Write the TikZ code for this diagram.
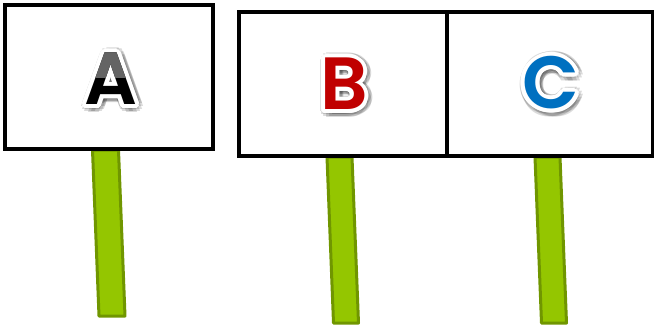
\documentclass[tikz,border=0pt]{standalone}
\usepackage{fontspec}
\setmainfont{Poppins}
\newfontfamily\letterfam{Poppins}[UprightFont=* SemiBold]
\usetikzlibrary{calc}
\definecolor{stickgreen}{RGB}{148,198,0}
\definecolor{stickedge}{RGB}{112,150,0}
\definecolor{letterred}{RGB}{192,0,0}
\definecolor{letterblue}{RGB}{0,112,192}
\definecolor{lettergray}{RGB}{100,100,100}
\begin{document}
\begin{tikzpicture}[x=1pt,y=-1pt,
  panel/.style={draw=black, line width=3.2pt, fill=white},
  stick/.style={fill=stickgreen, draw=stickedge, line width=3pt, line join=round},
  letterfont/.style={font=\letterfam\fontsize{74}{74}\selectfont, inner sep=0pt, anchor=center},
  outline/.style={letterfont, text=white},
  glow/.style={letterfont, text=black, opacity=0.14}]
\useasboundingbox (0,0) rectangle (654,327);
% sticks
\draw[stick] (92.5,150) -- (118.5,150) -- (125,316) -- (99,316) -- cycle;
\draw[stick] (327,157) -- (352,157) -- (358.5,323) -- (333.5,323) -- cycle;
\draw[stick] (535,157) -- (560,157) -- (566.5,323) -- (541.5,323) -- cycle;
% panels
\node[panel, minimum width=208pt, minimum height=144pt, inner sep=0pt] (boxA) at (109,77) {};
\node[panel, minimum width=208pt, minimum height=144pt, inner sep=0pt] (boxB) at (343,84) {};
\node[panel, minimum width=206pt, minimum height=144pt, inner sep=0pt] (boxC) at (550,84) {};
% letter positions
\coordinate (pA) at (111,79);
\coordinate (pB) at (344,84);
\coordinate (pC) at (551,83);
% glows and outlines
\foreach \p/\t in {pA/A,pB/B,pC/C}{
  \foreach \a in {0,30,...,330}{
    \node[glow] at ($(\p)+(1.5,1.5)+(\a:6.5)$) {\t};
  }
  \foreach \a in {0,22.5,...,337.5}{
    \node[outline] at ($(\p)+(\a:4)$) {\t};
  }
}
% letters
\node[letterfont, text=black] (letterA) at (pA) {A};
\begin{scope}
  \clip (0,0) rectangle (230,77);
  \node[letterfont, text=lettergray] (letterAtop) at (pA) {A};
\end{scope}
\node[letterfont, text=letterred] (letterB) at (pB) {B};
\node[letterfont, text=letterblue] (letterC) at (pC) {C};
\end{tikzpicture}
\end{document}
